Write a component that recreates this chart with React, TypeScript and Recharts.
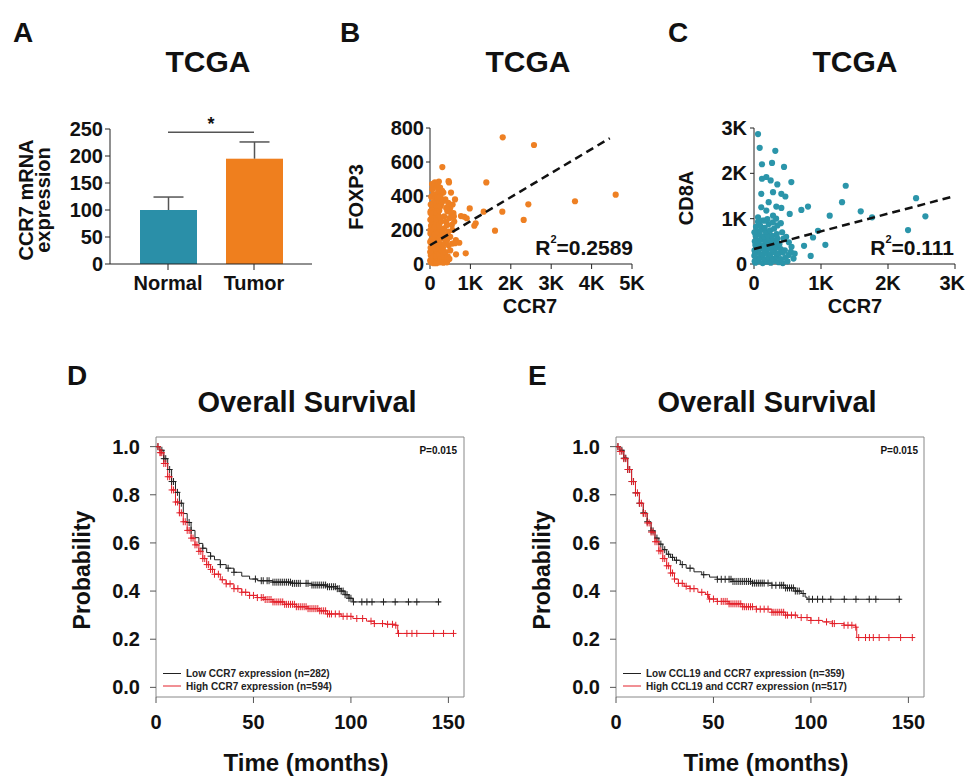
import React from 'react';
import {
  BarChart, Bar, XAxis, YAxis, ScatterChart, Scatter,
  ReferenceLine, ComposedChart, Line, ReferenceArea, Label,
} from 'recharts';

const FONT = '"Liberation Sans", Arial, Helvetica, sans-serif';
const INK = '#111';

// ---------- Panel A ----------
const barCategories = ['Normal', 'Tumor'];
const barValues = [100, 195];
const barErrors = [24, 31];
const barColors = ['#2A8FA8', '#EF7F1E'];
const barTicks = [0, 50, 100, 150, 200, 250];
const sigLevel = 244;

// ---------- Panel B ----------
const bTicksX = [0, 1000, 2000, 3000, 4000, 5000];
const bTicksY = [0, 200, 400, 600, 800];
const bCluster: number[][] = [
  [20,10],[60,25],[110,15],[150,40],[200,20],[250,35],[300,15],[350,30],[400,20],[40,55],[90,70],[130,50],
  [180,75],[230,60],[280,80],[330,55],[380,70],[440,45],[15,95],[70,110],[120,90],[170,120],[220,100],[270,115],
  [320,95],[370,120],[30,140],[80,155],[130,135],[190,160],[240,145],[290,165],[340,150],[10,180],[60,195],[110,175],
  [160,200],[210,185],[260,205],[310,190],[25,225],[75,240],[125,220],[175,245],[225,230],[280,250],[40,270],[95,285],
  [150,265],[200,290],[255,275],[15,310],[65,320],[120,305],[175,330],[230,315],[45,350],[100,365],[160,345],[215,370],
  [280,355],[30,395],[85,410],[140,390],[200,420],[260,400],[60,440],[130,455],[190,470],[250,450],[220,485],[305,570],
  [460,487],[470,480],[206,435],[520,420],[619,380],[560,350],[500,330],[430,310],[580,300],[480,270],[400,250],[540,230],
  [350,210],[450,190],[500,160],[420,140],[550,120],[600,250],[380,380],[330,420],[20,50],[5,130],[8,260],[45,10],
  [90,5],[160,5],[240,10],[330,8],[420,10],[480,30],[500,80],[460,110],[380,170],[420,230],[350,280],[300,430],
  [260,340],[120,480],[50,470],[80,360],[180,390],[240,390],[320,370],[400,330],[450,360],[520,300],[560,200],[590,280],
  [5,20],[5,70],[10,200],[12,300],[18,350],[640,140],
];
const bOutliers: number[][] = [
  [1800,745],[2574,700],[1394,480],[3589,369],[4596,408],[2434,351],[1790,308],[2319,259],[1609,196],[1329,308],
  [983,327],[1131,239],[1097,225],[849,278],[767,282],[908,269],[725,125],[619,122],[884,63],[644,57],
];
const bTrend = [{ x: 0, y: 110 }, { x: 4450, y: 740 }];
const bR2 = '0.2589';

// ---------- Panel C ----------
const cTicks = [0, 1000, 2000, 3000];
const cCluster: number[][] = [
  [20,30],[70,60],[130,20],[190,50],[250,30],[310,70],[370,40],[430,20],[500,60],[40,120],[100,150],[160,110],
  [220,140],[280,120],[340,160],[400,110],[470,140],[15,220],[65,250],[125,210],[185,240],[245,220],[305,260],[365,230],
  [430,250],[30,320],[90,340],[150,310],[210,350],[270,320],[330,360],[400,330],[20,420],[75,440],[135,410],[195,450],
  [255,420],[320,460],[380,440],[45,520],[105,540],[165,510],[225,550],[285,520],[350,560],[25,620],[85,650],[145,610],
  [205,640],[270,620],[340,660],[50,720],[110,750],[175,710],[240,740],[300,780],[30,820],[90,850],[160,800],[220,880],
  [60,930],[130,960],[200,990],[280,920],[350,850],[420,700],[480,600],[520,480],[560,380],[440,560],[460,300],[520,200],
  [590,120],[550,270],[400,900],[330,1000],[10,60],[5,180],[8,300],[12,500],[6,700],
];
const cOutliers: number[][] = [
  [60,2867],[85,2563],[318,2496],[119,2200],[269,2230],[448,2141],[119,1881],[184,1919],[249,1844],[348,1756],[557,1807],
  [109,1548],[284,1585],[219,1363],[408,1548],[468,1489],[109,1252],[333,1267],[408,1237],[184,1178],[60,1030],[284,1067],
  [533,1104],[160,956],[1369,1726],[1314,1363],[2419,1452],[707,1193],[806,1267],[1130,1067],[1593,1163],[1762,1030],
  [2558,1052],[2299,748],[955,733],[881,585],[1065,422],[747,400],[846,178],[607,229],
];
const cTrend = [{ x: 0, y: 330 }, { x: 3000, y: 1500 }];
const cR2 = '0.111';

// ---------- Panel D ----------
const dLow: number[][] = [
  [0,1],[2,0.985],[4,0.95],[6,0.905],[8,0.855],[10,0.81],[12,0.765],[14,0.722],[16,0.685],[18,0.652],[20,0.622],
  [22,0.598],[24,0.578],[26,0.56],[28,0.545],[30,0.53],[33,0.51],[36,0.495],[40,0.478],[44,0.462],[48,0.45],[52,0.443],
  [60,0.437],[70,0.432],[80,0.425],[88,0.418],[93,0.41],[95,0.4],[97,0.385],[99,0.37],[101,0.355],[146,0.355],
];
const dHigh: number[][] = [
  [0,1],[2,0.975],[4,0.93],[6,0.875],[8,0.82],[10,0.77],[12,0.725],[14,0.688],[16,0.652],[18,0.62],[20,0.592],
  [22,0.565],[24,0.535],[26,0.51],[28,0.49],[30,0.47],[33,0.447],[36,0.43],[40,0.41],[44,0.395],[48,0.382],[52,0.373],
  [56,0.365],[60,0.355],[66,0.345],[72,0.335],[78,0.327],[84,0.318],[88,0.305],[95,0.295],[101,0.286],[108,0.275],
  [112,0.265],[118,0.262],[123,0.258],[124,0.224],[153,0.224],
];
const dLowCensor = [1,3,4,5,7,8,9,11,13,17,18,24,28,33,37,40,51,54,55,57,58,60,61,62,63,64,65,66,67,68,69,70,71,72,73,74,
  77,78,80,81,82,83,84,85,86,87,88,89,90,91,92,93,94,95,96,97,98,99,100,101.3,105.6,108.2,110.8,116.7,122.7,129.5,133.8,144.9];
const dHighCensor = [1,2,2.5,3,4,5,6,7,8,9,10,11,12,13,14,15,16,17,18,19,20,21,22,23,24,25,26,27,28,29,30,32,34,36,38,40,42,
  44,46,48,50,52,54,55,56,57,58,59,60,61,62,63,64,65,66,67,68,69,70,71,72,73,74,75,76,77,78,79,80,81,82,83,84,85,86,87,88,
  89,90,92,94,96,98,100,103,106,110.3,112,116.2,118.8,121.3,123,124.4,128.7,131.3,133.8,142.4,147.5,152.6];
const dLegend = ['Low CCR7 expression (n=282)', 'High CCR7 expression (n=594)'];

// ---------- Panel E ----------
const eLow: number[][] = [
  [0,1],[2,0.985],[4,0.952],[6,0.905],[8,0.855],[10,0.808],[12,0.765],[14,0.725],[16,0.688],[18,0.65],[20,0.62],
  [22,0.595],[24,0.572],[26,0.553],[28,0.54],[30,0.528],[33,0.51],[36,0.495],[40,0.48],[44,0.468],[48,0.458],[52,0.449],
  [60,0.44],[70,0.433],[80,0.424],[87,0.413],[92,0.4],[95,0.39],[97,0.375],[98,0.366],[146,0.366],
];
const eHigh: number[][] = [
  [0,1],[2,0.98],[4,0.95],[6,0.905],[8,0.855],[10,0.808],[12,0.765],[14,0.722],[16,0.683],[18,0.645],[20,0.605],
  [22,0.567],[24,0.535],[26,0.505],[28,0.475],[30,0.45],[32,0.432],[35,0.42],[38,0.41],[42,0.395],[46,0.386],[47.5,0.367],
  [52,0.357],[58,0.347],[65,0.335],[72,0.325],[80,0.312],[87,0.3],[93,0.29],[100,0.278],[106,0.272],[111,0.265],
  [117,0.258],[123,0.25],[123.5,0.207],[153,0.207],
];
const eLowCensor = [1,3,4,5,6,7,8,9,10,12,14,16,18,19,21,23,25,27,29,31,34,38,45,52,54,56,58,59,60,61,62,63,64,65,66,67,
  68,69,70,71,72,73,74,75,76,78,80,82,84,85,86,87,88,89,90,91,92,93,94,96,99,100.8,103.4,106,110.2,117.1,123.1,129.9,133.3,145.3];
const eHighCensor = [1,2,3,4,5,6,7,8,9,10,11,12,13,14,15,16,17,18,19,20,21,22,23,24,25,26,27,28,29,30,32,34,36,38,40,44,47,
  48,50,52,54,55,56,57,58,59,60,61,62,63,64,65,66,67,68,69,70,72,74,76,78,80,81,82,83,84,85,86,87,88,90,92,95,98,100,104,108,
  111,112,117,119,121,123,124.5,128,130,132,135,140,146,152];
const eLegend = ['Low CCL19 and CCR7 expression (n=359)', 'High CCL19 and CCR7 expression (n=517)'];

const kmTicksX = [0, 50, 100, 150];
const kmTicksY = [0, 0.2, 0.4, 0.6, 0.8, 1.0];
const pValue = 'P=0.015';

// ---------- helpers ----------
const barData = barCategories.map((name, i) => ({ name, value: barValues[i], err: barErrors[i], fill: barColors[i] }));
const toXY = (arr: number[][]) => arr.map(([x, y]) => ({ x, y }));
const toTS = (arr: number[][]) => arr.map(([t, s]) => ({ t, s }));
const survAt = (curve: number[][], t: number) => {
  let s = curve[0][1];
  for (const [ti, si] of curve) { if (ti <= t) s = si; else break; }
  return s;
};
const censorPts = (curve: number[][], times: number[]) => times.map((t) => ({ t, s: survAt(curve, t) }));
const kFmt = (v: number) => (v === 0 ? '0' : `${v / 1000}K`);

const tickStyle = { fontFamily: FONT, fontSize: 20, fontWeight: 700, fill: INK };

const BarWithErr = (props: any) => {
  const { x, y, width, height, payload } = props;
  const ppu = height / payload.value;
  const top = y - payload.err * ppu;
  const cx = x + width / 2;
  return (
    <g>
      <rect x={x} y={y} width={width} height={height} fill={payload.fill} />
      <line x1={cx} x2={cx} y1={y} y2={top} stroke="#555" strokeWidth={1.5} />
      <line x1={cx - 15} x2={cx + 15} y1={top} y2={top} stroke="#555" strokeWidth={1.5} />
    </g>
  );
};

const dotShape = (color: string) => (props: any) => (
  <circle cx={props.cx} cy={props.cy} r={3.1} fill={color} />
);
const noShape = () => <g />;

const crossShape = (color: string) => (props: any) => {
  const { cx, cy } = props;
  return <path d={`M${cx - 3},${cy}H${cx + 3}M${cx},${cy - 3.5}V${cy + 3.5}`} stroke={color} strokeWidth={1} fill="none" />;
};

// last x tick label kept inside the picture edge
const edgeTick = (lastValue: number) => (props: any) => {
  const { x, y, payload } = props;
  const last = payload.value === lastValue;
  return (
    <text x={last ? 965 - 650 : x} y={y} dy="0.71em" textAnchor={last ? 'end' : 'middle'}
      fontFamily={FONT} fontSize={20} fontWeight={700} fill={INK}>{kFmt(payload.value)}</text>
  );
};

const KM = ({ low, high, lowC, highC }: any) => (
  <ComposedChart width={480} height={360} margin={{ top: 17, right: 16, left: 0, bottom: 0 }}>
    <XAxis type="number" dataKey="t" domain={[0, 158]} ticks={kmTicksX} allowDataOverflow
      axisLine={false} tickLine={{ stroke: '#555' }} tickSize={6} tickMargin={12} height={83}
      tick={tickStyle} interval={0} />
    <YAxis type="number" dataKey="s" domain={[-0.04, 1.04]} ticks={kmTicksY} allowDataOverflow
      axisLine={false} tickLine={{ stroke: '#555' }} tickSize={6} tickMargin={10} width={156}
      tick={tickStyle} interval={0} tickFormatter={(v: number) => v.toFixed(1)} />
    <ReferenceArea x1={0} x2={158} y1={-0.04} y2={1.04} fill="none" fillOpacity={0} stroke="#888" strokeWidth={1} ifOverflow="visible" />
    <Line data={toTS(low)} dataKey="s" type="stepAfter" stroke="#222" strokeWidth={1} dot={false} isAnimationActive={false} />
    <Line data={toTS(high)} dataKey="s" type="stepAfter" stroke="#E3202A" strokeWidth={1} dot={false} isAnimationActive={false} />
    <Scatter data={censorPts(low, lowC)} dataKey="s" shape={crossShape('#222')} isAnimationActive={false} />
    <Scatter data={censorPts(high, highC)} dataKey="s" shape={crossShape('#E3202A')} isAnimationActive={false} />
  </ComposedChart>
);

const abs = (left: number, top: number): React.CSSProperties => ({ position: 'absolute', left, top });

export default function App() {
  const T = (p: any) => <text fontFamily={FONT} fontWeight={700} fill={INK} {...p} />;
  return (
    <div style={{ position: 'absolute', left: 0, top: 0, width: 966, height: 778, background: '#fff', overflow: 'hidden' }}>
      {/* A */}
      <div style={abs(0, 100)}>
        <BarChart width={330} height={200} data={barData} margin={{ top: 29, right: 18, left: 0, bottom: 0 }}>
          <XAxis dataKey="name" padding={{ left: 15, right: 15 }} axisLine={{ stroke: '#222' }}
            tickLine={{ stroke: '#222' }} tickSize={6} tickMargin={6} tick={tickStyle} height={36} interval={0} />
          <YAxis type="number" domain={[0, 250]} ticks={barTicks} axisLine={{ stroke: '#222' }}
            tickLine={{ stroke: '#222' }} tickSize={5} tickMargin={2} tick={tickStyle} width={110} interval={0} />
          <Bar dataKey="value" barSize={57} shape={BarWithErr} isAnimationActive={false} />
          <ReferenceLine segment={[{ x: 'Normal', y: sigLevel }, { x: 'Tumor', y: sigLevel }]} stroke="#555" strokeWidth={1.5}>
            <Label value="*" position="top" offset={2} style={{ fontFamily: FONT, fontSize: 18, fontWeight: 700, fill: INK }} />
          </ReferenceLine>
        </BarChart>
      </div>

      {/* B */}
      <div style={abs(330, 100)}>
        <ScatterChart width={320} height={230} margin={{ top: 28, right: 18, left: 0, bottom: 30 }}>
          <XAxis type="number" dataKey="x" domain={[0, 5000]} ticks={bTicksX} tickFormatter={kFmt}
            axisLine={{ stroke: '#222' }} tickLine={{ stroke: '#222' }} tickSize={5} tickMargin={7}
            tick={tickStyle} height={36} interval={0} />
          <YAxis type="number" dataKey="y" domain={[0, 800]} ticks={bTicksY}
            axisLine={{ stroke: '#222' }} tickLine={{ stroke: '#222' }} tickSize={4} tickMargin={2}
            tick={tickStyle} width={100} interval={0} />
          <Scatter data={toXY(bCluster)} shape={dotShape('#EE8023')} isAnimationActive={false} />
          <Scatter data={toXY(bOutliers)} shape={dotShape('#EE8023')} isAnimationActive={false} />
          <Scatter data={bTrend} shape={noShape} line={{ stroke: '#111', strokeWidth: 2.5, strokeDasharray: '8 5' }} isAnimationActive={false} />
        </ScatterChart>
      </div>

      {/* C */}
      <div style={abs(650, 100)}>
        <ScatterChart width={316} height={230} margin={{ top: 28, right: 11, left: 0, bottom: 30 }}>
          <XAxis type="number" dataKey="x" domain={[0, 3000]} ticks={cTicks}
            axisLine={{ stroke: '#222' }} tickLine={{ stroke: '#222' }} tickSize={5} tickMargin={7}
            tick={edgeTick(3000)} height={36} interval={0} />
          <YAxis type="number" dataKey="y" domain={[0, 3000]} ticks={cTicks} tickFormatter={kFmt}
            axisLine={{ stroke: '#222' }} tickLine={{ stroke: '#222' }} tickSize={4} tickMargin={3}
            tick={tickStyle} width={104} interval={0} />
          <Scatter data={toXY(cCluster)} shape={dotShape('#2B95AA')} isAnimationActive={false} />
          <Scatter data={toXY(cOutliers)} shape={dotShape('#2B95AA')} isAnimationActive={false} />
          <Scatter data={cTrend} shape={noShape} line={{ stroke: '#111', strokeWidth: 2.5, strokeDasharray: '8 5' }} isAnimationActive={false} />
        </ScatterChart>
      </div>

      {/* D */}
      <div style={abs(0, 420)}>
        <KM low={dLow} high={dHigh} lowC={dLowCensor} highC={dHighCensor} />
      </div>
      {/* E */}
      <div style={abs(460, 420)}>
        <KM low={eLow} high={eHigh} lowC={eLowCensor} highC={eHighCensor} />
      </div>

      {/* text overlay */}
      <svg width={966} height={778} style={{ position: 'absolute', left: 0, top: 0, pointerEvents: 'none' }}>
        <T x={13} y={42} fontSize={28}>A</T>
        <T x={208} y={72} fontSize={30} textAnchor="middle">TCGA</T>
        <T x={340} y={42} fontSize={28}>B</T>
        <T x={528} y={72} fontSize={30} textAnchor="middle">TCGA</T>
        <T x={668} y={42} fontSize={28}>C</T>
        <T x={855} y={72} fontSize={30} textAnchor="middle">TCGA</T>
        <T x={67} y={385} fontSize={28}>D</T>
        <T x={307} y={412} fontSize={29} textAnchor="middle">Overall Survival</T>
        <T x={528} y={385} fontSize={28}>E</T>
        <T x={767} y={412} fontSize={29} textAnchor="middle">Overall Survival</T>

        <T x={33} y={200} fontSize={20} textAnchor="middle" transform="rotate(-90 33 200)">CCR7 mRNA</T>
        <T x={50} y={200} fontSize={20} textAnchor="middle" transform="rotate(-90 50 200)">expression</T>

        <T x={363} y={197} fontSize={20} textAnchor="middle" transform="rotate(-90 363 197)">FOXP3</T>
        <T x={530} y={313} fontSize={20} textAnchor="middle">CCR7</T>
        <T x={633} y={255} fontSize={21} textAnchor="end">R<tspan fontSize={11} dy={-12}>2</tspan><tspan dy={12}>={bR2}</tspan></T>

        <T x={693} y={198} fontSize={20} textAnchor="middle" transform="rotate(-90 693 198)">CD8A</T>
        <T x={855} y={313} fontSize={20} textAnchor="middle">CCR7</T>
        <T x={954} y={255} fontSize={21} textAnchor="end">R<tspan fontSize={11} dy={-12}>2</tspan><tspan dy={12}>={cR2}</tspan></T>

        <T x={90} y={570} fontSize={23} textAnchor="middle" transform="rotate(-90 90 570)">Probability</T>
        <T x={306} y={771} fontSize={24} textAnchor="middle">Time (months)</T>
        <T x={457} y={454} fontSize={10} textAnchor="end">{pValue}</T>
        <line x1={163} x2={181} y1={673.5} y2={673.5} stroke="#222" strokeWidth={1} />
        <line x1={163} x2={181} y1={686} y2={686} stroke="#E3202A" strokeWidth={1} />
        <T x={186} y={677} fontSize={10} fill="#222">{dLegend[0]}</T>
        <T x={186} y={689.5} fontSize={10} fill="#222">{dLegend[1]}</T>

        <T x={550} y={570} fontSize={23} textAnchor="middle" transform="rotate(-90 550 570)">Probability</T>
        <T x={766} y={771} fontSize={24} textAnchor="middle">Time (months)</T>
        <T x={918} y={454} fontSize={10} textAnchor="end">{pValue}</T>
        <line x1={623} x2={641} y1={673.5} y2={673.5} stroke="#222" strokeWidth={1} />
        <line x1={623} x2={641} y1={686} y2={686} stroke="#E3202A" strokeWidth={1} />
        <T x={646} y={677} fontSize={10} fill="#222">{eLegend[0]}</T>
        <T x={646} y={689.5} fontSize={10} fill="#222">{eLegend[1]}</T>
      </svg>
    </div>
  );
}
